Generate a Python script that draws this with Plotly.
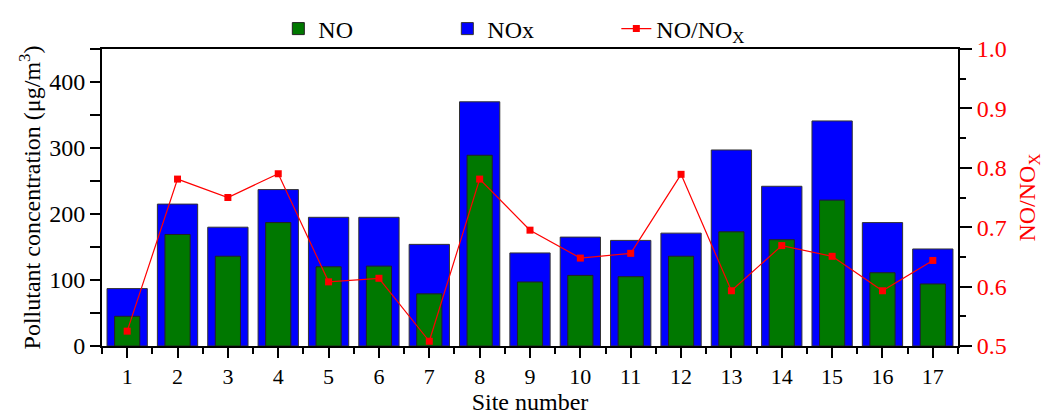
import plotly.graph_objects as go

sites = list(range(1, 18))
site_labels = [str(s) for s in sites]
no_vals = [45, 169, 136, 187, 120, 121, 79, 289, 97, 107, 105, 136, 173, 161, 221, 111, 94]
nox_vals = [87, 215, 180, 237, 195, 195, 154, 370, 141, 165, 160, 171, 297, 242, 341, 187, 147]
ratio_vals = [0.525, 0.781, 0.750, 0.790, 0.608, 0.614, 0.508, 0.781, 0.695,
              0.648, 0.656, 0.789, 0.593, 0.669, 0.651, 0.593, 0.644]

FONT = "Liberation Serif"

def f(size=24, color="black"):
    return dict(family=FONT, size=size, color=color)

fig = go.Figure()
fig.add_trace(go.Bar(
    x=sites, y=nox_vals, name="NOx", width=0.8,
    marker=dict(color="#0000ff", line=dict(color="#333333", width=1)),
    legendrank=2,
))
fig.add_trace(go.Bar(
    x=sites, y=no_vals, name="NO", width=0.5,
    marker=dict(color="#007800", line=dict(color="#222222", width=1)),
    legendrank=1,
))
fig.add_trace(go.Scatter(
    x=sites, y=ratio_vals, name="NO/NO<sub>X</sub>", yaxis="y2",
    mode="lines+markers",
    line=dict(color="#ff0000", width=1.2),
    marker=dict(symbol="square", size=7, color="#ff0000"),
    legendrank=3,
))

fig.update_layout(
    width=1056, height=417,
    barmode="overlay",
    plot_bgcolor="white", paper_bgcolor="white",
    margin=dict(l=102, r=98, t=49, b=71, autoexpand=False),
    font=f(),
    showlegend=True,
    legend=dict(
        orientation="h", x=0.206, xanchor="left",
        yref="container", y=1 - 29 / 417, yanchor="middle",
        font=f(), entrywidth=124, bgcolor="rgba(0,0,0,0)",
        traceorder="normal",
    ),
    xaxis=dict(
        range=[0.5, 17.5], tickmode="array", tickvals=sites, ticktext=site_labels,
        automargin=False,
        showline=True, linecolor="black", linewidth=2, mirror=True,
        ticks="outside", ticklen=10, tickwidth=2, tickcolor="black",
        minor=dict(tickmode="array", tickvals=[s - 0.5 for s in sites] + [17.5],
                   ticks="outside", ticklen=6, tickwidth=2, tickcolor="black"),
        showgrid=False, zeroline=False,
        title=dict(text="Site number", font=f(24), standoff=4),
        tickfont=f(22),
    ),
    yaxis=dict(
        range=[0, 450], dtick=100, tick0=0, automargin=False,
        showline=True, linecolor="black", linewidth=2,
        ticks="outside", ticklen=10, tickwidth=2, tickcolor="black",
        minor=dict(dtick=50, ticks="outside", ticklen=10, tickwidth=2, tickcolor="black"),
        showgrid=False, zeroline=False,
        title=dict(text="Pollutant concentration (μg/m<sup>3</sup>)", font=f(), standoff=2),
        tickfont=f(),
    ),
    yaxis2=dict(
        range=[0.5, 1.0], dtick=0.1, tick0=0.5, tickformat=".1f", automargin=False,
        overlaying="y", side="right",
        showline=True, linecolor="black", linewidth=2,
        ticks="outside", ticklen=12, tickwidth=2, tickcolor="black",
        minor=dict(dtick=0.05, ticks="outside", ticklen=6, tickwidth=2, tickcolor="black"),
        showgrid=False, zeroline=False,
        tickfont=f(24, "#ff0000"),
        title=dict(text="NO/NO<sub>X</sub>", font=f(24, "#ff0000"), standoff=12),
    ),
)

fig.write_html("out.html", config={"displayModeBar": False},
               post_script="document.body.style.margin='0px';")
